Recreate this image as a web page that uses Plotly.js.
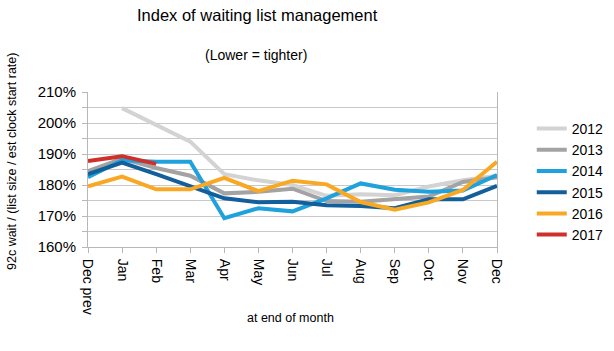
<!DOCTYPE html>
<html>
<head>
<meta charset="utf-8">
<script src="https://cdn.plot.ly/plotly-3.0.1.min.js"></script>
<style>html,body{margin:0;padding:0;background:#fff;}#chart{width:614px;height:351px;}</style>
</head>
<body>
<div id="chart"></div>
<script>
const months = ["Dec prev","Jan","Feb","Mar","Apr","May","Jun","Jul","Aug","Sep","Oct","Nov","Dec"];
const years = ["2012","2013","2014","2015","2016","2017"];
const y2012 = [null, 204.8, 199.5, 194.0, 183.5, 181.5, 180.0, 176.5, 177.0, 176.7, 179.5, 181.5, 183.0];
const y2013 = [184.5, 188.5, 185.5, 183.0, 177.3, 177.8, 178.8, 174.8, 174.6, 175.3, 176.3, 181.0, 182.5];
const y2014 = [182.5, 188.0, 187.5, 187.5, 169.3, 172.5, 171.5, 175.7, 180.5, 178.5, 177.8, 178.2, 183.2];
const y2015 = [183.5, 187.2, 183.5, 179.7, 175.7, 174.4, 174.6, 173.5, 173.2, 172.5, 175.4, 175.4, 179.7];
const y2016 = [179.6, 182.7, 178.6, 178.6, 182.3, 178.0, 181.4, 180.2, 174.5, 172.0, 174.4, 178.4, 187.5];
const y2017 = [187.7, 189.3, 186.8];
const colors = ["#d3d3d3", "#a3a3a3", "#1fa2dc", "#135f9c", "#f9a823", "#d0302a"];
const series = [y2012, y2013, y2014, y2015, y2016, y2017];

const FONT = "Liberation Sans, Arial, sans-serif";
const traces = series.map((ys, i) => ({
  type: "scatter", mode: "lines",
  x: months.slice(0, ys.length), y: ys,
  name: years[i],
  line: {color: colors[i], width: 4},
  connectgaps: false
}));

const layout = {
  width: 614, height: 351,
  margin: {l: 88, r: 117, t: 92, b: 104, autoexpand: false},
  paper_bgcolor: "#fff", plot_bgcolor: "#fff",
  font: {family: FONT, color: "#000"},
  showlegend: true,
  legend: {x: 1.085, xanchor: "left", y: 1 - (113 - 92) / 155, yanchor: "top",
    font: {family: FONT, size: 14, color: "#000"}, bgcolor: "rgba(0,0,0,0)"},
  xaxis: {type: "category", categoryorder: "array", categoryarray: months,
    range: [0, 12], showgrid: false, showline: true, linecolor: "#b8b8b8", linewidth: 1,
    ticks: "outside", ticklen: 5, tickcolor: "#b8b8b8", tickangle: 90, automargin: false,
    ticklabelstandoff: 3,
    tickfont: {family: FONT, size: 14, color: "#000"}, zeroline: false, fixedrange: true},
  yaxis: {range: [160, 210], dtick: 10, tick0: 160, ticksuffix: "%", automargin: false,
    ticklabelstandoff: 3,
    showgrid: true, gridcolor: "#c8c8c8", gridwidth: 1,
    showline: true, linecolor: "#b8b8b8", linewidth: 1, mirror: true,
    ticks: "outside", ticklen: 5, tickcolor: "#b8b8b8",
    minor: {dtick: 5, showgrid: true, gridcolor: "#c8c8c8", ticks: "outside", ticklen: 5, tickcolor: "#b8b8b8"},
    tickfont: {family: FONT, size: 15, color: "#000"}, zeroline: false, fixedrange: true},
  annotations: [
    {text: "Index of waiting list management", xref: "paper", yref: "paper",
     x: (257 - 88) / 409, y: 1 + (92 - 15) / 155, xanchor: "center", yanchor: "middle",
     showarrow: false, font: {family: FONT, size: 16.5, color: "#000"}},
    {text: "(Lower = tighter)", xref: "paper", yref: "paper",
     x: (256 - 88) / 409, y: 1 + (92 - 55) / 155, xanchor: "center", yanchor: "middle",
     showarrow: false, font: {family: FONT, size: 14, color: "#000"}},
    {text: "92c wait / (list size / est clock start rate)", xref: "paper", yref: "paper",
     x: (12 - 88) / 409, y: 1 - (162 - 92) / 155, xanchor: "center", yanchor: "middle",
     textangle: -90, showarrow: false, font: {family: FONT, size: 12.5, color: "#000"}},
    {text: "at end of month", xref: "paper", yref: "paper",
     x: (290 - 88) / 409, y: -(318 - 247) / 155, xanchor: "center", yanchor: "middle",
     showarrow: false, font: {family: FONT, size: 12.5, color: "#000"}}
  ]
};

Plotly.newPlot("chart", traces, layout, {displayModeBar: false, staticPlot: true});
</script>
</body>
</html>
